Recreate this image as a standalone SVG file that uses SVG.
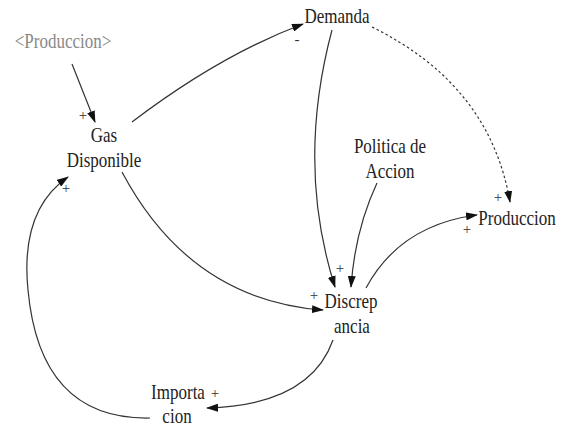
<svg xmlns="http://www.w3.org/2000/svg" width="565" height="431" viewBox="0 0 565 431">
<defs>
<marker id="ah" viewBox="0 0 12 8" refX="11" refY="4" markerWidth="12" markerHeight="8" markerUnits="userSpaceOnUse" orient="auto">
<path d="M0,0 L12,4 L0,8 Z" fill="#111"/>
</marker>
</defs>
<style>
text{font-family:'Liberation Serif','Times New Roman',serif}
.t{font-size:17px;fill:#222;text-anchor:middle}
.g{fill:#888}
.p{font-size:15px;fill:#333;text-anchor:middle}
.c{fill:none;stroke:#333;stroke-width:1.2}
.d{stroke-dasharray:2.5,2.5}
</style>
<rect width="565" height="431" fill="#fff"/>
<g id="connectors">
<path class="c" d="M72,64 L95,122" marker-end="url(#ah)"/>
<path class="c" d="M132,122 Q220,55 303,24" marker-end="url(#ah)"/>
<path class="c" d="M332,30 Q296,165 335,287" marker-end="url(#ah)"/>
<path class="c" d="M377,183 Q355,230 351,287" marker-end="url(#ah)"/>
<path class="c" d="M122,172 Q190,300 323,310" marker-end="url(#ah)"/>
<path class="c" d="M366,288 Q400,225 477,215" marker-end="url(#ah)"/>
<path class="c d" d="M372,27 Q490,85 510,202" marker-end="url(#ah)"/>
<path class="c" d="M333,340 Q310,405 207,408" marker-end="url(#ah)"/>
<path class="c" d="M150,418 Q40,420 28,290 Q20,210 68,177" marker-end="url(#ah)"/>
</g>
<g id="produccion-shadow"><text class="t g" transform="matrix(1,0,0,1.2,63,48)">&lt;Produccion&gt;</text></g>
<g id="gas-disponible">
<text class="t" transform="matrix(1,0,0,1.2,104,142)">Gas</text>
<text class="t" transform="matrix(1,0,0,1.2,104,167)">Disponible</text>
</g>
<g id="demanda"><text class="t" transform="matrix(1,0,0,1.2,337,23)">Demanda</text></g>
<g id="politica">
<text class="t" transform="matrix(1,0,0,1.2,390,153)">Politica de</text>
<text class="t" transform="matrix(1,0,0,1.2,390,178)">Accion</text>
</g>
<g id="produccion"><text class="t" transform="matrix(1,0,0,1.2,517,225)">Produccion</text></g>
<g id="discrepancia">
<text class="t" transform="matrix(1,0,0,1.2,351,308)">Discrep</text>
<text class="t" transform="matrix(1,0,0,1.2,352,333)">ancia</text>
</g>
<g id="importacion">
<text class="t" transform="matrix(1,0,0,1.2,178,399)">Importa</text>
<text class="t" transform="matrix(1,0,0,1.2,177,423)">cion</text>
</g>
<g id="polarities">
<text class="p" x="83" y="120">+</text>
<text class="p" x="297" y="44">-</text>
<text class="p" x="340" y="273">+</text>
<text class="p" x="314" y="300">+</text>
<text class="p" x="467" y="234">+</text>
<text class="p" x="498" y="202">+</text>
<text class="p" x="215" y="398">+</text>
<text class="p" x="66" y="193">+</text>
</g>
</svg>
